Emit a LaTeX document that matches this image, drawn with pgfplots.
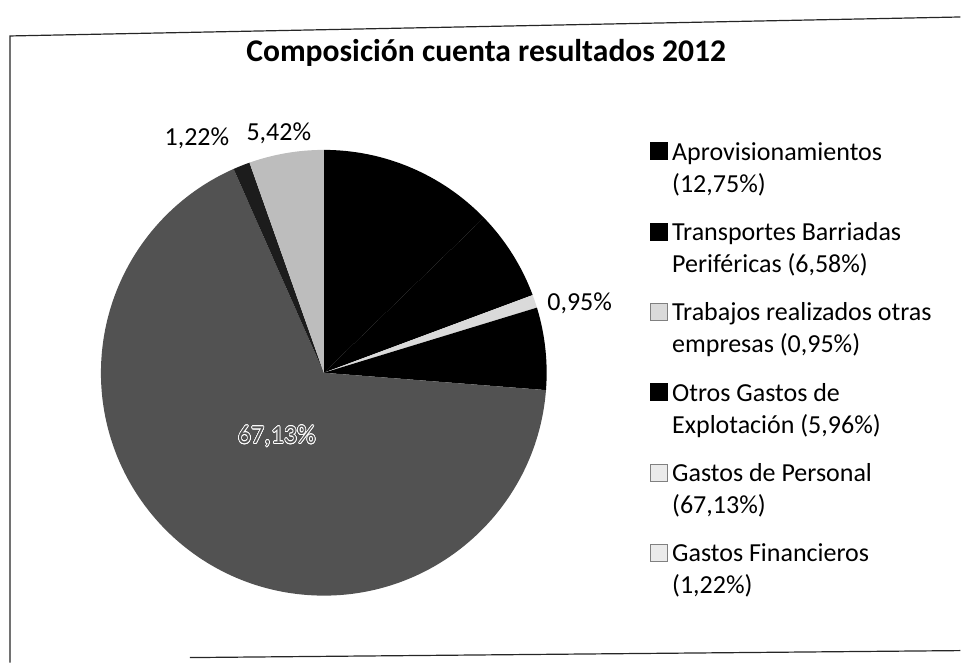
\documentclass[border=0pt]{standalone}
\usepackage{pgfplots}
\pgfplotsset{compat=1.18}
\usepackage{fontspec}
\setmainfont{Carlito}
\usepackage{contour}
\contourlength{0.7bp}
\definecolor{cBlack}{HTML}{000000}
\definecolor{cLight}{HTML}{DADADA}
\definecolor{cGray}{HTML}{525252}
\definecolor{cDark}{HTML}{1C1C1C}
\definecolor{cLite}{HTML}{BDBDBD}
% share (%) / colour, clockwise from 12 o'clock
\def\pievalues{12.75/cBlack, 6.58/cBlack, 0.95/cLight, 5.96/cBlack, 67.13/cGray, 1.22/cDark, 5.42/cLite}
\newcommand\legtwo[2]{\strut #1\\\strut #2}
\begin{document}
\begin{tikzpicture}
\begin{axis}[
  x=1bp, y=1bp, xmin=0, xmax=961, ymin=0, ymax=663,
  scale only axis, axis lines=none, clip=false,
  legend cell align=left,
  legend image code/.code={\fill[#1] (0bp,6bp) rectangle (17bp,23bp);},
  legend style={at={(axis cs:650,525.4)}, anchor=north west, draw=none, fill=none,
    inner sep=0pt, row sep=24.5bp, column sep=5bp,
    font=\fontsize{26bp}{32bp}\selectfont,
    nodes={inner sep=0pt, align=left}},
]
\path (axis cs:0,0) rectangle (axis cs:961,663);
\pgfplotsextra{
  \gdef\cum{0}
  \foreach \v/\c in \pievalues {
    \pgfmathsetmacro{\a}{90-3.6*\cum}
    \pgfmathsetmacro{\b}{90-3.6*(\cum+\v)}
    \fill[\c] (axis cs:324,290) -- ([shift={(\a:223bp)}]axis cs:324,290)
       arc[start angle=\a, end angle=\b, radius=223bp] -- cycle;
    \pgfmathsetmacro{\n}{\cum+\v}\xdef\cum{\n}
  }
}
\addlegendimage{fill=black}
\addlegendentry{\legtwo{Aprovisionamientos}{(12,75\%)}}
\addlegendimage{fill=black}
\addlegendentry{\legtwo{Transportes Barriadas}{Periféricas (6,58\%)}}
\addlegendimage{fill=cLight, draw=gray}
\addlegendentry{\legtwo{Trabajos realizados otras}{empresas (0,95\%)}}
\addlegendimage{fill=black}
\addlegendentry{\legtwo{Otros Gastos de}{Explotación (5,96\%)}}
\addlegendimage{fill=white!92!black, draw=gray}
\addlegendentry{\legtwo{Gastos de Personal}{(67,13\%)}}
\addlegendimage{fill=white!92!black, draw=gray}
\addlegendentry{\legtwo{Gastos Financieros}{(1,22\%)}}
\node[font=\bfseries\fontsize{31.6bp}{36bp}\selectfont] at (axis cs:486.5,610) {Composición cuenta resultados 2012};
\node[font=\fontsize{26bp}{32bp}\selectfont] at (axis cs:580,360) {0,95\%};
\node[font=\fontsize{26bp}{32bp}\selectfont] at (axis cs:197,525) {1,22\%};
\node[font=\fontsize{26bp}{32bp}\selectfont] at (axis cs:279,530) {5,42\%};
\node[font=\fontsize{26bp}{32bp}\selectfont] at (axis cs:277,226) {\contour{white}{\textcolor{cGray}{67,13\%}}};
\draw[line width=1.2bp, black!85] (axis cs:10,0) -- (axis cs:10,627) -- (axis cs:961,646);
\draw[line width=1.2bp, black!85] (axis cs:190,5) -- (axis cs:961,12);
\end{axis}
\end{tikzpicture}
\end{document}
